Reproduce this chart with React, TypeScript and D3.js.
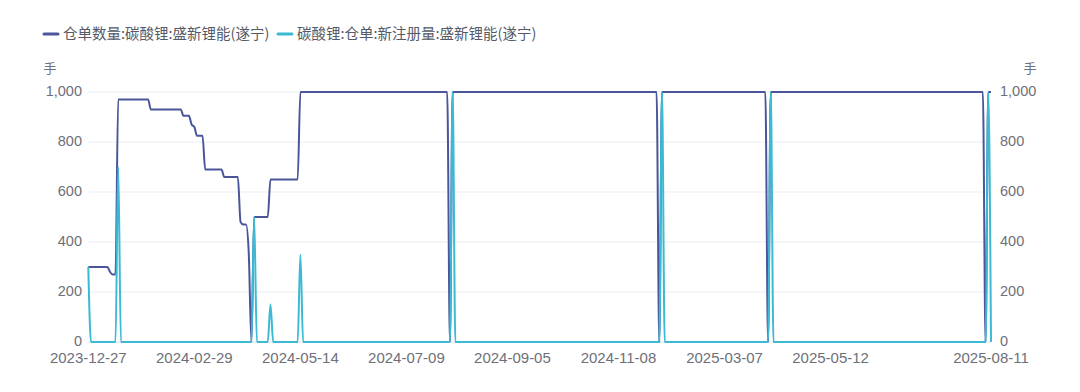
import React, { useEffect, useRef } from 'react'
import * as d3 from 'd3'

const stockRuns: [number, number][] = [
  [300, 8], [280, 1], [270, 2], [970, 12], [930, 12], [905, 3], [870, 1], [860, 1],
  [825, 3], [690, 7], [660, 6], [480, 1], [470, 2], [360, 1], [0, 1], [500, 6],
  [650, 11], [1000, 55], [0, 1], [1000, 76], [0, 1], [1000, 39], [0, 1], [1000, 79],
  [0, 1], [1000, 2],
]
const newRegRuns: [number, number][] = [
  [300, 1], [0, 10], [700, 1], [0, 49], [500, 1], [0, 5], [150, 1], [0, 10],
  [350, 1], [0, 55], [1000, 1], [0, 76], [1000, 1], [0, 39], [1000, 1], [0, 79],
  [1000, 1], [0, 1],
]

const seriesNames = ['仓单数量:碳酸锂:盛新锂能(遂宁)', '碳酸锂:仓单:新注册量:盛新锂能(遂宁)']
const seriesColors = ['#4a5699', '#3cb9d3']

const tickLabels = ['2023-12-27', '2024-02-29', '2024-05-14', '2024-07-09', '2024-09-05', '2024-11-08', '2025-03-07', '2025-05-12', '2025-08-11']
const tickIndex = [0, 39, 78, 117, 156, 195, 234, 273, 332]
const yTicks = [0, 200, 400, 600, 800, 1000]

const expand = (runs: [number, number][]) => runs.flatMap(([v, n]) => Array(n).fill(v))

function App() {
  const ref = useRef<SVGSVGElement>(null)

  useEffect(() => {
    const w = 1080
    const h = 392
    const left = 88.3
    const right = 991
    const top = 92
    const bottom = 342
    const font = '"Noto Sans CJK SC", "Noto Sans", sans-serif'
    const numFont = '"Liberation Sans", Arial, sans-serif'

    const stock = expand(stockRuns)
    const newReg = expand(newRegRuns)
    const idx = stock.map((_, i) => i)

    const svg = d3.select(ref.current).attr('width', w).attr('height', h)
    svg.selectAll('*').remove()

    const x = d3.scalePoint<number>().domain(idx).range([left, right])
    const y = d3.scaleLinear().domain([0, 1000]).range([bottom, top])

    // grid
    svg.append('g')
      .selectAll('line')
      .data(yTicks)
      .join('line')
      .attr('x1', left)
      .attr('x2', right - 1)
      .attr('y1', d => y(d))
      .attr('y2', d => y(d))
      .attr('stroke', d => (d === 0 ? '#dcdfe8' : '#ebedf5'))
      .attr('stroke-width', 1)

    // left / right axis labels
    const axisText = (xx: number, anchor: string) => {
      svg.append('g')
        .selectAll('text')
        .data(yTicks)
        .join('text')
        .attr('x', xx)
        .attr('y', d => y(d))
        .attr('dy', '0.28em')
        .attr('text-anchor', anchor)
        .attr('font-family', numFont)
        .attr('font-size', 14.5)
        .attr('fill', '#6e7079')
        .text(d => d3.format(',')(d))
    }
    axisText(82, 'end')
    axisText(1000, 'start')

    svg.append('text').text('手').attr('x', 50).attr('y', 73).attr('text-anchor', 'middle')
      .attr('font-family', font).attr('font-size', 13).attr('fill', '#6e7079')
    svg.append('text').text('手').attr('x', 1030).attr('y', 73).attr('text-anchor', 'middle')
      .attr('font-family', font).attr('font-size', 13).attr('fill', '#6e7079')

    // x labels
    svg.append('g')
      .selectAll('text')
      .data(tickIndex)
      .join('text')
      .attr('x', d => x(d)!)
      .attr('y', 363)
      .attr('text-anchor', 'middle')
      .attr('font-family', numFont)
      .attr('font-size', 15)
      .attr('fill', '#6e7079')
      .text((_, i) => tickLabels[i])

    // lines
    const line = d3.line<number>()
      .x((_, i) => x(i)!)
      .y(d => y(d))
      .curve(d3.curveMonotoneX)

    ;[stock, newReg].forEach((s, k) => {
      svg.append('path')
        .attr('d', line(s))
        .attr('fill', 'none')
        .attr('stroke', seriesColors[k])
        .attr('stroke-width', 2)
        .attr('stroke-linejoin', 'round')
    })

    // legend
    const legendX = [44, 278]
    seriesNames.forEach((name, k) => {
      const g = svg.append('g').attr('transform', `translate(${legendX[k]},34)`)
      g.append('line')
        .attr('x1', 0).attr('x2', 14).attr('y1', 0).attr('y2', 0)
        .attr('stroke', seriesColors[k]).attr('stroke-width', 3).attr('stroke-linecap', 'round')
      g.append('text')
        .attr('x', 19)
        .attr('y', 0)
        .attr('dy', '0.35em')
        .attr('font-family', font)
        .attr('font-size', 14.5)
        .attr('fill', '#555a66')
        .text(name)
    })
  })

  return (
    <div style={{ position: 'absolute', left: 0, top: 0 }}>
      <svg ref={ref}></svg>
    </div>
  )
}

export default App
